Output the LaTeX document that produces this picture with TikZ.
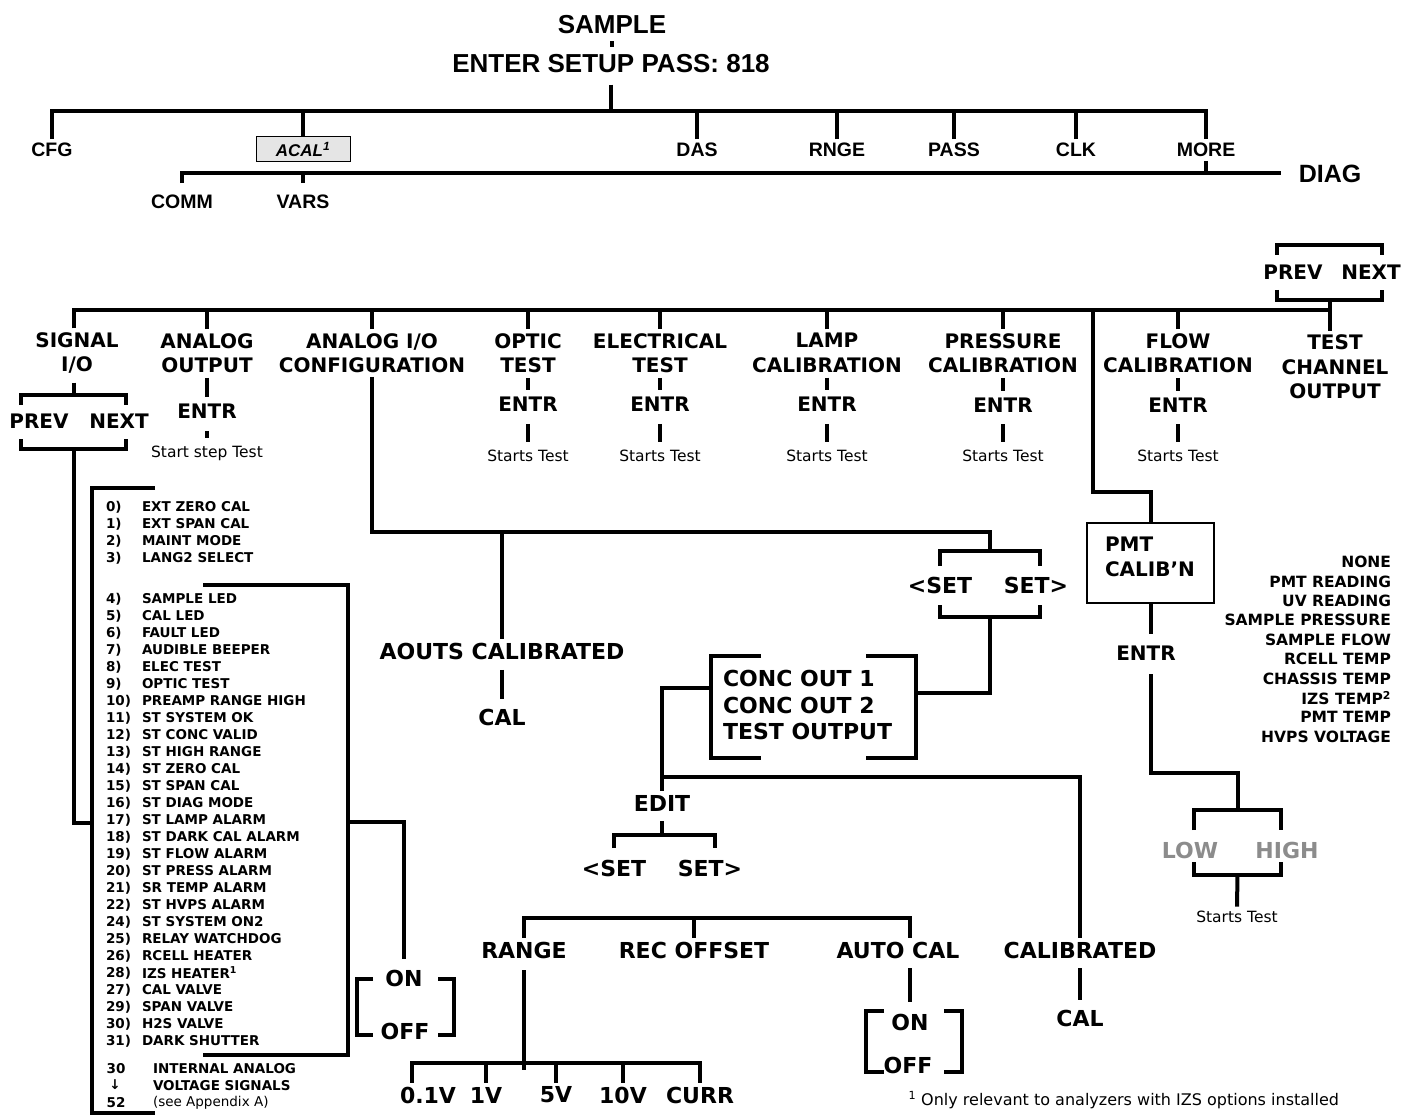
\documentclass[tikz,border=0pt]{standalone}
\usepackage{fontspec}
\setmainfont{DejaVu Sans}
\newfontfamily\arialfam{Liberation Sans}
\newcommand\topfont{\arialfam\bfseries\fontsize{26}{30}\selectfont}
\newcommand\optfont{\arialfam\bfseries\fontsize{19.5}{23}\selectfont}
\newcommand\menufont{\bfseries\fontsize{20}{24.5}\selectfont}
\newcommand\bigfont{\bfseries\fontsize{22}{26.5}\selectfont}
\newcommand\listfont{\bfseries\fontsize{13.5}{17}\selectfont}
\newcommand\chanfont{\bfseries\fontsize{15.5}{19}\selectfont}
\newcommand\notefont{\fontsize{15.5}{19}\selectfont}
\newcommand\topbrk[2]{\draw (#1.north west) ++(0,#2) |- (#1.north east) -- ++(0,#2);}
\newcommand\botbrk[2]{\draw (#1.south west) ++(0,-#2) |- (#1.south east) -- ++(0,-#2);}
\newcommand\sidebrk[2]{%
    \draw (#1.north west) ++(#2,0) -| (#1.south west) -- ++(#2,0);
    \draw (#1.north east) ++(-#2,0) -| (#1.south east) -- ++(-#2,0);}
\begin{document}
\begin{tikzpicture}[
                x=1pt, y=-1pt,
                line width=4pt,
                every node/.style={inner sep=2pt},
                toplabel/.style={font=\optfont},
                hdr/.style={font=\menufont, align=center},
                bigtext/.style={font=\bigfont},
                item/.style={font=\listfont, anchor=west, inner sep=0pt},
                note/.style={font=\notefont},
                bracketbox/.style={inner sep=0pt},
                gap/.style={shorten <=6pt, shorten >=6pt},
            ]
            \useasboundingbox (0,0) rectangle (1401,1115);
            % setup menu
            \node[font=\topfont] (sample) at (612,25) {SAMPLE};
            \node[font=\topfont] (pass) at (611,63.5) {ENTER SETUP PASS: 818};
            \coordinate (bus1) at (611,111);
            \draw[shorten <=3pt, shorten >=3pt] (sample.south) -- (sample.south |- pass.north);
            \draw[shorten <=8pt] (pass.south) -- (bus1);
            \node[toplabel] (cfg) at (52,150) {CFG};
            \node[draw, fill=black!10, line width=1pt, minimum width=94pt, minimum height=25pt,
                font=\arialfam\bfseries\itshape\fontsize{17}{20}\selectfont] (acal) at (303,149.5) {ACAL\textsuperscript{1}};
            \node[toplabel] (das) at (697,150) {DAS};
            \node[toplabel] (rnge) at (837,150) {RNGE};
            \node[toplabel] (passw) at (954,150) {PASS};
            \node[toplabel] (clk) at (1076,150) {CLK};
            \node[toplabel] (more) at (1206,150) {MORE};
            \draw (cfg.north) |- (more.north |- bus1) -- (more.north);
            \foreach \n in {acal,das,rnge,passw,clk} \draw (\n.north) -- (\n.north |- bus1);
            \node[toplabel] (comm) at (182,202) {COMM};
            \node[toplabel] (vars) at (303,202) {VARS};
            \node[font=\arialfam\bfseries\fontsize{25}{30}\selectfont] (diag) at (1330,173.5) {DIAG};
            \draw[shorten <=8pt, shorten >=14pt] (comm.north) |- (diag.west);
            \draw[shorten <=8pt] (vars.north) -- (vars.north |- diag.west);
            \draw (more.south) -- (more.south |- diag.west);
            % diag menu
            \coordinate (bus3) at (0,310);
            \node[bracketbox, minimum width=101pt, minimum height=51pt] (pnr) at (1329.5,272.5) {};
            \node[hdr] (prevR) at (1293,272) {PREV};
            \node[hdr] (nextR) at (1371,272) {NEXT};
            \topbrk{pnr}{10} \botbrk{pnr}{10}
            \node[bracketbox, minimum width=101pt, minimum height=50pt] (pnl) at (73.5,422) {};
            \node[hdr] (prevL) at (39,421) {PREV};
            \node[hdr] (nextL) at (119,421) {NEXT};
            \topbrk{pnl}{10} \botbrk{pnl}{10}
            \node[hdr] (sig) at (77,353) {SIGNAL\\I/O};
            \node[hdr] (aout) at (207,353) {ANALOG\\OUTPUT};
            \node[hdr] (aioc) at (372,353) {ANALOG I/O\\CONFIGURATION};
            \node[hdr] (opt) at (528,353) {OPTIC\\TEST};
            \node[hdr] (elec) at (660,353) {ELECTRICAL\\TEST};
            \node[hdr] (lamp) at (827,353) {LAMP\\CALIBRATION};
            \node[hdr] (pres) at (1003,353) {PRESSURE\\CALIBRATION};
            \node[hdr] (flow) at (1178,353) {FLOW\\CALIBRATION};
            \node[hdr] (tco) at (1335,367) {TEST\\CHANNEL\\OUTPUT};
            \draw (pnl.north |- sig.north) -- (pnl.north |- bus3) -- (pnr.south |- bus3);
            \draw (pnr.south) -- (pnr.south |- tco.north);
            \foreach \n in {aout,aioc,opt,elec,lamp,pres,flow} \draw (\n.north) -- (\n.north |- bus3);
            \draw[shorten <=5pt] (pnl.north |- sig.south) -- (pnl.north);
            \node[hdr] (entrA) at (207,411.5) {ENTR};
            \node[note] (stA) at (207,453) {Start step Test};
            \node[hdr] (entrO) at (528,404.5) {ENTR};
            \node[note] (stO) at (528,455.5) {Starts Test};
            \node[hdr] (entrE) at (660,404.5) {ENTR};
            \node[note] (stE) at (660,455.5) {Starts Test};
            \node[hdr] (entrL) at (827,404.5) {ENTR};
            \node[note] (stL) at (827,455.5) {Starts Test};
            \node[hdr] (entrP) at (1003,405) {ENTR};
            \node[note] (stP) at (1003,456) {Starts Test};
            \node[hdr] (entrF) at (1178,405) {ENTR};
            \node[note] (stF) at (1178,456) {Starts Test};
            \foreach \h/\e/\s in {aout/entrA/stA, opt/entrO/stO, elec/entrE/stE, lamp/entrL/stL, pres/entrP/stP, flow/entrF/stF}{
                \draw[shorten <=1pt, shorten >=3pt] (\h.south) -- (\e.north);
                \draw[shorten <=8pt, shorten >=4pt] (\e.south) -- (\s.north);
            }
            % signal list
            \coordinate (lsttop) at (92,488);
            \coordinate (lstbot) at (92,1113);
            \coordinate (lstjoin) at (92,823);
            \draw (lsttop) ++(63,0) -- (lsttop) -- (lstbot) -- ++(63,0);
            \draw (pnl.south) |- (lstjoin);
            \foreach \t [count=\i from 0] in {EXT ZERO CAL, EXT SPAN CAL, MAINT MODE, LANG2 SELECT}{
                \node[item] (num\i) at (104,{507+17*\i}) {\i)};
                \node[item] (itm\i) at (140,{507+17*\i}) {\t};
            }
            \foreach \k/\t [count=\i from 0] in {4/SAMPLE LED, 5/CAL LED, 6/FAULT LED, 7/AUDIBLE BEEPER,
                8/ELEC TEST, 9/OPTIC TEST, 10/PREAMP RANGE HIGH, 11/ST SYSTEM OK, 12/ST CONC VALID,
                13/ST HIGH RANGE, 14/ST ZERO CAL, 15/ST SPAN CAL, 16/ST DIAG MODE, 17/ST LAMP ALARM,
                18/ST DARK CAL ALARM, 19/ST FLOW ALARM, 20/ST PRESS ALARM, 21/SR TEMP ALARM,
                22/ST HVPS ALARM, 24/ST SYSTEM ON2, 25/RELAY WATCHDOG, 26/RCELL HEATER,
                28/IZS HEATER\textsuperscript{1}, 27/CAL VALVE, 29/SPAN VALVE, 30/H2S VALVE, 31/DARK SHUTTER}{
                \node[item] (num\k) at (104,{599+17*\i}) {\k)};
                \node[item] (itm\k) at (140,{599+17*\i}) {\t};
            }
            \coordinate (ibtop) at (203,585);
            \coordinate (ibbot) at (203,1055);
            \coordinate (ibj) at (348,822);
            \draw (ibtop) -| (ibj) |- (ibbot);
            \node[bigtext] (on1) at (404,978) {ON};
            \node[bigtext] (off1) at (405,1031) {OFF};
            \node[bracketbox, minimum width=93pt, minimum height=52pt] (oo1) at (405.5,1007) {};
            \sidebrk{oo1}{16}
            \draw[shorten >=7pt] (ibj) -| (on1.north);
            \node[item, anchor=center] (f30) at (116,1069) {30};
            \node[item, anchor=center] (farr) at (115,1085) {↓};
            \node[item, anchor=center] (f52) at (116,1103) {52};
            \node[item] (fa) at (151,1069) {INTERNAL ANALOG};
            \node[item] (fb) at (151,1086) {VOLTAGE SIGNALS};
            \node[item, font=\fontsize{13.5}{17}\selectfont] (fc) at (151,1103) {(see Appendix A)};
            % analog i/o configuration
            \node[bigtext] (aouts) at (502,651.5) {AOUTS CALIBRATED};
            \node[bigtext] (cal1) at (502,717) {CAL};
            \node[bracketbox, minimum width=96pt, minimum height=62pt] (setA) at (990,584) {};
            \node[bigtext] (setAl) at (940,585) {<SET};
            \node[bigtext] (setAr) at (1036,585) {SET>};
            \topbrk{setA}{15} \botbrk{setA}{12}
            \coordinate (cb) at (990,532);
            \draw (aioc.south) |- (cb) -- (setA.north);
            \draw (aouts.north |- cb) -- (aouts.north);
            \draw[gap] (aouts) -- (cal1);
            \node[bracketbox, minimum width=201pt, minimum height=98pt] (conc) at (813.5,707) {};
            \sidebrk{conc}{50}
            \node[bigtext, anchor=west, align=left] (conct) at (719,705) {CONC OUT 1\\CONC OUT 2\\TEST OUTPUT};
            \draw (setA.south) |- ([yshift=14pt]conc.east);
            \node[bigtext] (edit) at (662,803) {EDIT};
            \draw ([yshift=19pt]conc.west) -| (edit.north);
            \coordinate (eb) at (0,777);
            \node[bigtext] (calb) at (1080,950) {CALIBRATED};
            \node[bigtext] (cal2) at (1080,1018) {CAL};
            \draw (edit.north |- eb) -| (calb.north);
            \draw[gap] (calb) -- (cal2);
            \node[bracketbox, minimum width=97pt, minimum height=26pt] (setB) at (664.5,850) {};
            \topbrk{setB}{13}
            \draw[shorten <=6pt] (edit.south) -- (edit.south |- setB.north);
            \node[bigtext] (setBl) at (614,868) {<SET};
            \node[bigtext] (setBr) at (710,868) {SET>};
            \node[bigtext] (rng) at (524,950) {RANGE};
            \node[bigtext] (recoff) at (694,950) {REC OFFSET};
            \node[bigtext] (acal2) at (898,950) {AUTO CAL};
            \coordinate (rb) at (0,918);
            \coordinate (acalx) at ([xshift=12pt]acal2.north);
            \draw (rng.north) |- (acalx |- rb) -- (acalx);
            \draw (recoff.north) -- (recoff.north |- rb);
            \coordinate (vb) at (0,1063);
            \coordinate (vbr) at (0,1070);
            \draw[shorten <=8pt] (rng.south) -- (rng.south |- vbr);
            \node[bigtext] (v01) at (428,1095) {0.1V};
            \node[bigtext] (v1) at (486,1095) {1V};
            \node[bigtext] (v5) at (556,1095) {5V};
            \node[bigtext] (v10) at (623,1095) {10V};
            \node[bigtext] (vcur) at (700,1095) {CURR};
            \coordinate (v01x) at ([xshift=-16pt]v01.north);
            \draw (v01x) |- (vcur.north |- vb) -- (vcur.north);
            \foreach \n in {v1,v5,v10} \draw (\n.north) -- (\n.north |- vb);
            \node[bigtext] (on2) at (910,1022) {ON};
            \node[bigtext] (off2) at (908,1065) {OFF};
            \node[bracketbox, minimum width=92pt, minimum height=57pt] (oo2) at (914,1041.5) {};
            \sidebrk{oo2}{18}
            \draw[shorten <=6pt, shorten >=8pt] (on2.north |- acal2.south) -- (on2.north);
            % pmt calibration
            \node[draw, line width=1.5pt, minimum width=127pt, minimum height=80pt] (pmt) at (1150.5,563) {};
            \node[hdr, align=left, anchor=west] (pmtt) at (1101,557) {PMT\\CALIB’N};
            \coordinate (pk) at (1093,492);
            \draw (pk |- bus3) -- (pk) -| (pmt.north);
            \node[hdr] (entrpmt) at (1146,653) {ENTR};
            \draw[shorten >=8pt] (pmt.south) -- (pmt.south |- entrpmt.north);
            \coordinate (lhk) at (0,773);
            \node[bracketbox, minimum width=83pt, minimum height=61pt] (lh) at (1237.5,842.5) {};
            \topbrk{lh}{20} \botbrk{lh}{13}
            \node[bigtext, text=black!45] (low) at (1190,850) {LOW};
            \node[bigtext, text=black!45] (high) at (1287,850) {HIGH};
            \draw[shorten <=10pt] (pmt.south |- entrpmt.south) -- (pmt.south |- lhk) -| (lh.north);
            \node[note] (stPMT) at (1237,916.5) {Starts Test};
            \draw (lh.south) -- (stPMT.north);
            \foreach \t [count=\i from 0] in {NONE, PMT READING, UV READING, SAMPLE PRESSURE, SAMPLE FLOW,
                RCELL TEMP, CHASSIS TEMP, IZS TEMP\textsuperscript{2}, PMT TEMP, HVPS VOLTAGE}
                \node[font=\chanfont, anchor=east, inner sep=0pt] (ch\i) at (1393,{562+19.4*\i}) {\t};
            \node[anchor=east, font=\fontsize{16}{19}\selectfont] (fn) at (1343,1100) {\textsuperscript{1} Only relevant to analyzers with IZS options installed};
            \end{tikzpicture}
\end{document}
